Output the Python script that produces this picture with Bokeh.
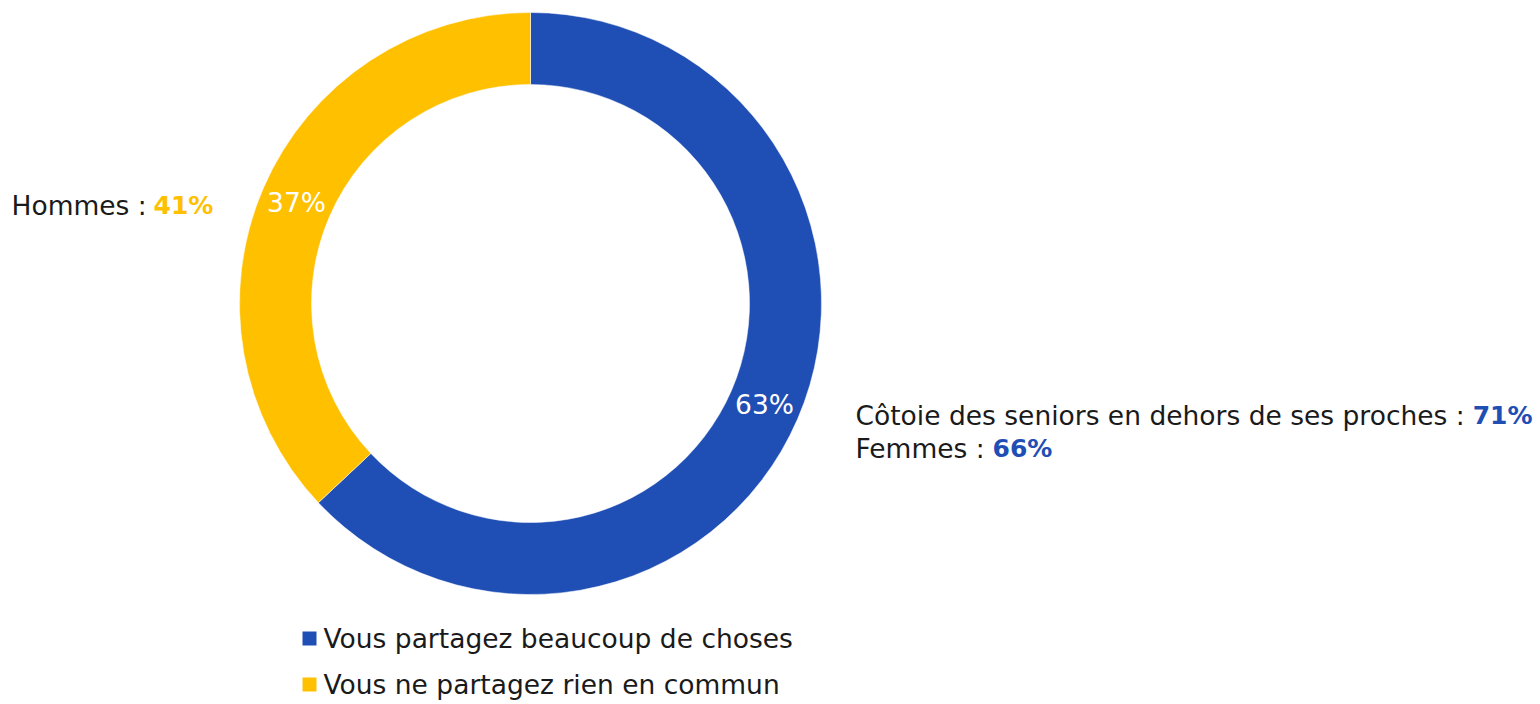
from bokeh.plotting import figure
from bokeh.models import Range1d
from bokeh.embed import file_html
from bokeh.resources import INLINE
from bokeh.core.properties import value
import math

# Data
categories = ["Vous partagez beaucoup de choses", "Vous ne partagez rien en commun"]
shares = [63, 37]
colors = ["#1F4EB4", "#FFC000"]
callout_blue = [("Côtoie des seniors en dehors de ses proches :", "71%"), ("Femmes :", "66%")]
callout_yellow = [("Hommes :", "41%")]

FONT = "DejaVu Sans"
SIZE = "26.5px"
BOLD_SIZE = "25px"
W, H = 1540, 704
CX, CY = 530, 303  # donut centre in page pixels

def px(x):
    return x - CX

def py(y):
    return CY - y

p = figure(width=W, height=H, output_backend="svg", toolbar_location=None,
           x_range=Range1d(-CX, W - CX), y_range=Range1d(CY - H, CY),
           min_border=0)
p.axis.visible = False
p.grid.visible = False
p.outline_line_color = None
p.background_fill_color = "white"
p.border_fill_color = "white"

total = sum(shares)
start = math.pi / 2
angles = []
for s, c in zip(shares, colors):
    sweep = 2 * math.pi * s / total
    end = start - sweep
    p.annular_wedge(x=0, y=0, inner_radius=219, outer_radius=291,
                    start_angle=start, end_angle=end, direction="clock",
                    fill_color=c, line_color="white", line_width=0.5)
    mid = start - sweep / 2
    angles.append(mid)
    start = end

for s, mid in zip(shares, angles):
    r = 255
    p.text(x=[r * math.cos(mid)], y=[r * math.sin(mid)], text=[f"{s}%"],
           text_color="white", text_font=value(FONT), text_font_size=SIZE,
           text_align="center", text_baseline="middle")

def label(x, y, txt, align="left", bold=False, color="#1a1a1a"):
    p.text(x=[px(x)], y=[py(y)], text=[txt], text_align=align, text_baseline="middle",
           text_font=value(FONT), text_font_size=BOLD_SIZE if bold else SIZE,
           text_font_style="bold" if bold else "normal", text_color=color)

# Yellow callout (left)
lab, val = callout_yellow[0]
label(11, 205, lab)
label(153, 205, val, bold=True, color=colors[1])

# Blue callout (right)
lab, val = callout_blue[0]
label(855, 415, lab)
label(1532, 415, val, align="right", bold=True, color=colors[0])
lab, val = callout_blue[1]
label(855, 448, lab)
label(992, 448, val, bold=True, color=colors[0])

# Legend
for i, (cat, c) in enumerate(zip(categories, colors)):
    yy = 638 + i * 46
    p.rect(x=[px(309)], y=[py(yy)], width=14, height=14, fill_color=c, line_color=None)
    label(323, yy, cat)

open("out.html", "w").write(file_html(p, INLINE))
